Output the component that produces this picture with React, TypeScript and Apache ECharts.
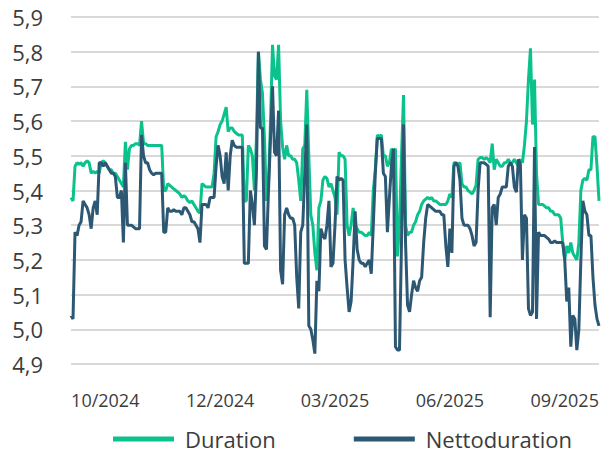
import React, { useEffect, useRef } from "react";
import * as echarts from "echarts";

const duration = [
  5.38, 5.37, 5.47, 5.48, 5.475, 5.48, 5.47, 5.48, 5.485, 5.48,
  5.45, 5.455, 5.45, 5.455, 5.45, 5.48, 5.485, 5.48, 5.47, 5.46,
  5.46, 5.45, 5.45, 5.44, 5.43, 5.42, 5.41, 5.54, 5.46, 5.52,
  5.53, 5.53, 5.535, 5.535, 5.53, 5.6, 5.535, 5.535, 5.53, 5.53,
  5.53, 5.53, 5.53, 5.53, 5.53, 5.53, 5.4, 5.4, 5.42, 5.415,
  5.41, 5.405, 5.4, 5.395, 5.39, 5.38, 5.385, 5.38, 5.37, 5.365,
  5.37, 5.36, 5.35, 5.34, 5.335, 5.42, 5.415, 5.41, 5.41, 5.41,
  5.41, 5.45, 5.555, 5.57, 5.59, 5.6, 5.62, 5.64, 5.57, 5.58,
  5.58, 5.57, 5.565, 5.56, 5.56, 5.56, 5.37, 5.37, 5.53, 5.52,
  5.5, 5.4, 5.55, 5.8, 5.72, 5.68, 5.55, 5.37, 5.42, 5.6,
  5.82, 5.73, 5.72, 5.82, 5.6, 5.525, 5.49, 5.53, 5.5, 5.5,
  5.49, 5.49, 5.48, 5.43, 5.37, 5.52, 5.53, 5.69, 5.5, 5.33,
  5.3, 5.22, 5.17, 5.35, 5.37, 5.43, 5.44, 5.435, 5.41, 5.42,
  5.4, 5.38, 5.33, 5.51, 5.5, 5.5, 5.49, 5.3, 5.27, 5.3,
  5.35, 5.3, 5.29, 5.28, 5.28, 5.275, 5.27, 5.27, 5.28, 5.27,
  5.4, 5.46, 5.56, 5.555, 5.56, 5.5, 5.5, 5.47, 5.48, 5.52,
  5.515, 5.52, 5.21, 5.3, 5.5, 5.675, 5.3, 5.27, 5.28, 5.28,
  5.3, 5.31, 5.33, 5.34, 5.36, 5.37, 5.375, 5.38, 5.375, 5.38,
  5.37, 5.37, 5.365, 5.36, 5.36, 5.36, 5.36, 5.37, 5.39, 5.38,
  5.48, 5.48, 5.475, 5.48, 5.42, 5.41, 5.41, 5.4, 5.395, 5.39,
  5.4, 5.415, 5.49, 5.495, 5.495, 5.49, 5.495, 5.49, 5.48, 5.535,
  5.46, 5.49, 5.48, 5.47, 5.47, 5.48, 5.48, 5.49, 5.48, 5.48,
  5.49, 5.48, 5.47, 5.49, 5.48, 5.53, 5.6, 5.72, 5.81, 5.59,
  5.72, 5.45, 5.36, 5.36, 5.36, 5.355, 5.35, 5.35, 5.34, 5.34,
  5.33, 5.33, 5.33, 5.32, 5.25, 5.2, 5.24, 5.22, 5.25, 5.22,
  5.21, 5.2, 5.25, 5.4, 5.43, 5.435, 5.43, 5.46, 5.46, 5.555,
  5.555, 5.47, 5.37,
];

const nettoduration = [
  5.04, 5.03, 5.28, 5.27, 5.3, 5.31, 5.37, 5.36, 5.35, 5.33,
  5.29, 5.35, 5.37, 5.33, 5.48, 5.48, 5.47, 5.48, 5.47, 5.46,
  5.45, 5.45, 5.44, 5.38, 5.38, 5.4, 5.25, 5.48, 5.3, 5.3,
  5.3, 5.295, 5.29, 5.29, 5.29, 5.56, 5.5, 5.48, 5.48, 5.46,
  5.45, 5.445, 5.45, 5.45, 5.45, 5.45, 5.28, 5.28, 5.35, 5.34,
  5.34, 5.345, 5.34, 5.34, 5.34, 5.33, 5.35, 5.35, 5.34, 5.33,
  5.31, 5.31, 5.3, 5.29, 5.25, 5.36, 5.36, 5.36, 5.35, 5.38,
  5.38, 5.38, 5.47, 5.53, 5.5, 5.44, 5.42, 5.51, 5.4, 5.5,
  5.545, 5.53, 5.525, 5.525, 5.525, 5.525, 5.19, 5.19, 5.19, 5.4,
  5.36, 5.3, 5.45, 5.8, 5.58, 5.58, 5.24, 5.23, 5.4, 5.55,
  5.7, 5.51, 5.5, 5.63, 5.17, 5.13, 5.33, 5.35, 5.33, 5.32,
  5.32, 5.3, 5.15, 5.06, 5.28, 5.3, 5.45, 5.59, 5.01, 5.0,
  4.97, 4.93, 5.14, 5.11, 5.29, 5.27, 5.26, 5.3, 5.37, 5.18,
  5.19, 5.3, 5.44, 5.43, 5.435, 5.43, 5.2, 5.12, 5.05, 5.08,
  5.2, 5.34, 5.23, 5.2, 5.19, 5.19, 5.18, 5.19, 5.2, 5.16,
  5.3, 5.45, 5.55, 5.55, 5.55, 5.45, 5.44, 5.28, 5.38, 5.47,
  5.52, 4.95, 4.94, 4.94, 5.25, 5.59, 5.25, 5.07, 5.05, 5.1,
  5.14, 5.12, 5.11, 5.14, 5.15, 5.25, 5.32, 5.36, 5.355, 5.35,
  5.345, 5.34, 5.34, 5.34, 5.33, 5.33, 5.24, 5.18, 5.29, 5.22,
  5.47, 5.48, 5.47, 5.43, 5.32, 5.3, 5.3, 5.3, 5.29, 5.27,
  5.24, 5.25, 5.4, 5.48, 5.48, 5.48, 5.475, 5.47, 5.035, 5.35,
  5.36, 5.3, 5.38, 5.39, 5.41, 5.41, 5.41, 5.47, 5.48, 5.47,
  5.41, 5.395, 5.49, 5.475, 5.2, 5.33, 5.32, 5.06, 5.04, 5.05,
  5.525, 5.03, 5.28, 5.27, 5.27, 5.27, 5.265, 5.26, 5.25, 5.25,
  5.255, 5.25, 5.25, 5.25, 5.25, 5.2, 5.08, 5.12, 4.95, 5.04,
  5.03, 4.94, 5.0, 5.2, 5.37, 5.34, 5.33, 5.27, 5.27, 5.15,
  5.07, 5.03, 5.01,
];

const categories = duration.map((_, i) => String(i));
const tickIndex = [17, 74, 131, 188, 245];
const tickLabels = ["10/2024", "12/2024", "03/2025", "06/2025", "09/2025"];
const seriesNames = ["Duration", "Nettoduration"];

export default function App() {
  const ref = useRef<HTMLDivElement>(null);
  useEffect(() => {
    if (!ref.current) return;
    const chart = echarts.init(ref.current, undefined, { renderer: "svg" });
    const font = "'Open Sans', 'DejaVu Sans', sans-serif";
    chart.setOption({
      animation: false,
      textStyle: { fontFamily: font },
      grid: { left: 71, right: 3, top: 17, bottom: 89, containLabel: false },
      legend: {
        left: 108,
        top: 423,
        itemGap: 78,
        itemWidth: 61,
        itemHeight: 5,
        icon: "rect",
        textStyle: { fontSize: 22, color: "#3c3c3c", fontFamily: font, padding: [0, 0, 0, 6], lineHeight: 22 },
        data: seriesNames,
      },
      xAxis: {
        type: "category",
        data: categories,
        boundaryGap: false,
        axisLine: { show: false },
        axisTick: { show: false },
        splitLine: { show: false },
        axisLabel: {
          interval: (index: number) => tickIndex.includes(index),
          formatter: (_v: string, index: number) => {
            const k = tickIndex.indexOf(index);
            return k >= 0 ? tickLabels[k] : "";
          },
          fontSize: 18,
          color: "#3c3c3c",
          margin: 27,
          fontFamily: font,
        },
      },
      yAxis: {
        type: "value",
        min: 4.9,
        max: 5.9,
        interval: 0.1,
        axisLine: { show: false },
        axisTick: { show: false },
        splitLine: { lineStyle: { color: "#d9d9d9", width: 2 } },
        axisLabel: {
          fontSize: 22,
          color: "#3c3c3c",
          margin: 28,
          fontFamily: font,
          formatter: (v: number) => v.toFixed(1).replace(".", ","),
        },
      },
      series: [
        {
          name: seriesNames[0],
          type: "line",
          data: duration,
          showSymbol: false,
          symbol: "none",
          lineStyle: { color: "#0cc28c", width: 3 },
          itemStyle: { color: "#0cc28c" },
          z: 2,
        },
        {
          name: seriesNames[1],
          type: "line",
          data: nettoduration,
          showSymbol: false,
          symbol: "none",
          lineStyle: { color: "#2c5873", width: 3 },
          itemStyle: { color: "#2c5873" },
          z: 3,
        },
      ],
    });
    return () => chart.dispose();
  }, []);
  return <div ref={ref} style={{ width: 602, height: 453, position: "absolute", left: 0, top: 0 }} />;
}
